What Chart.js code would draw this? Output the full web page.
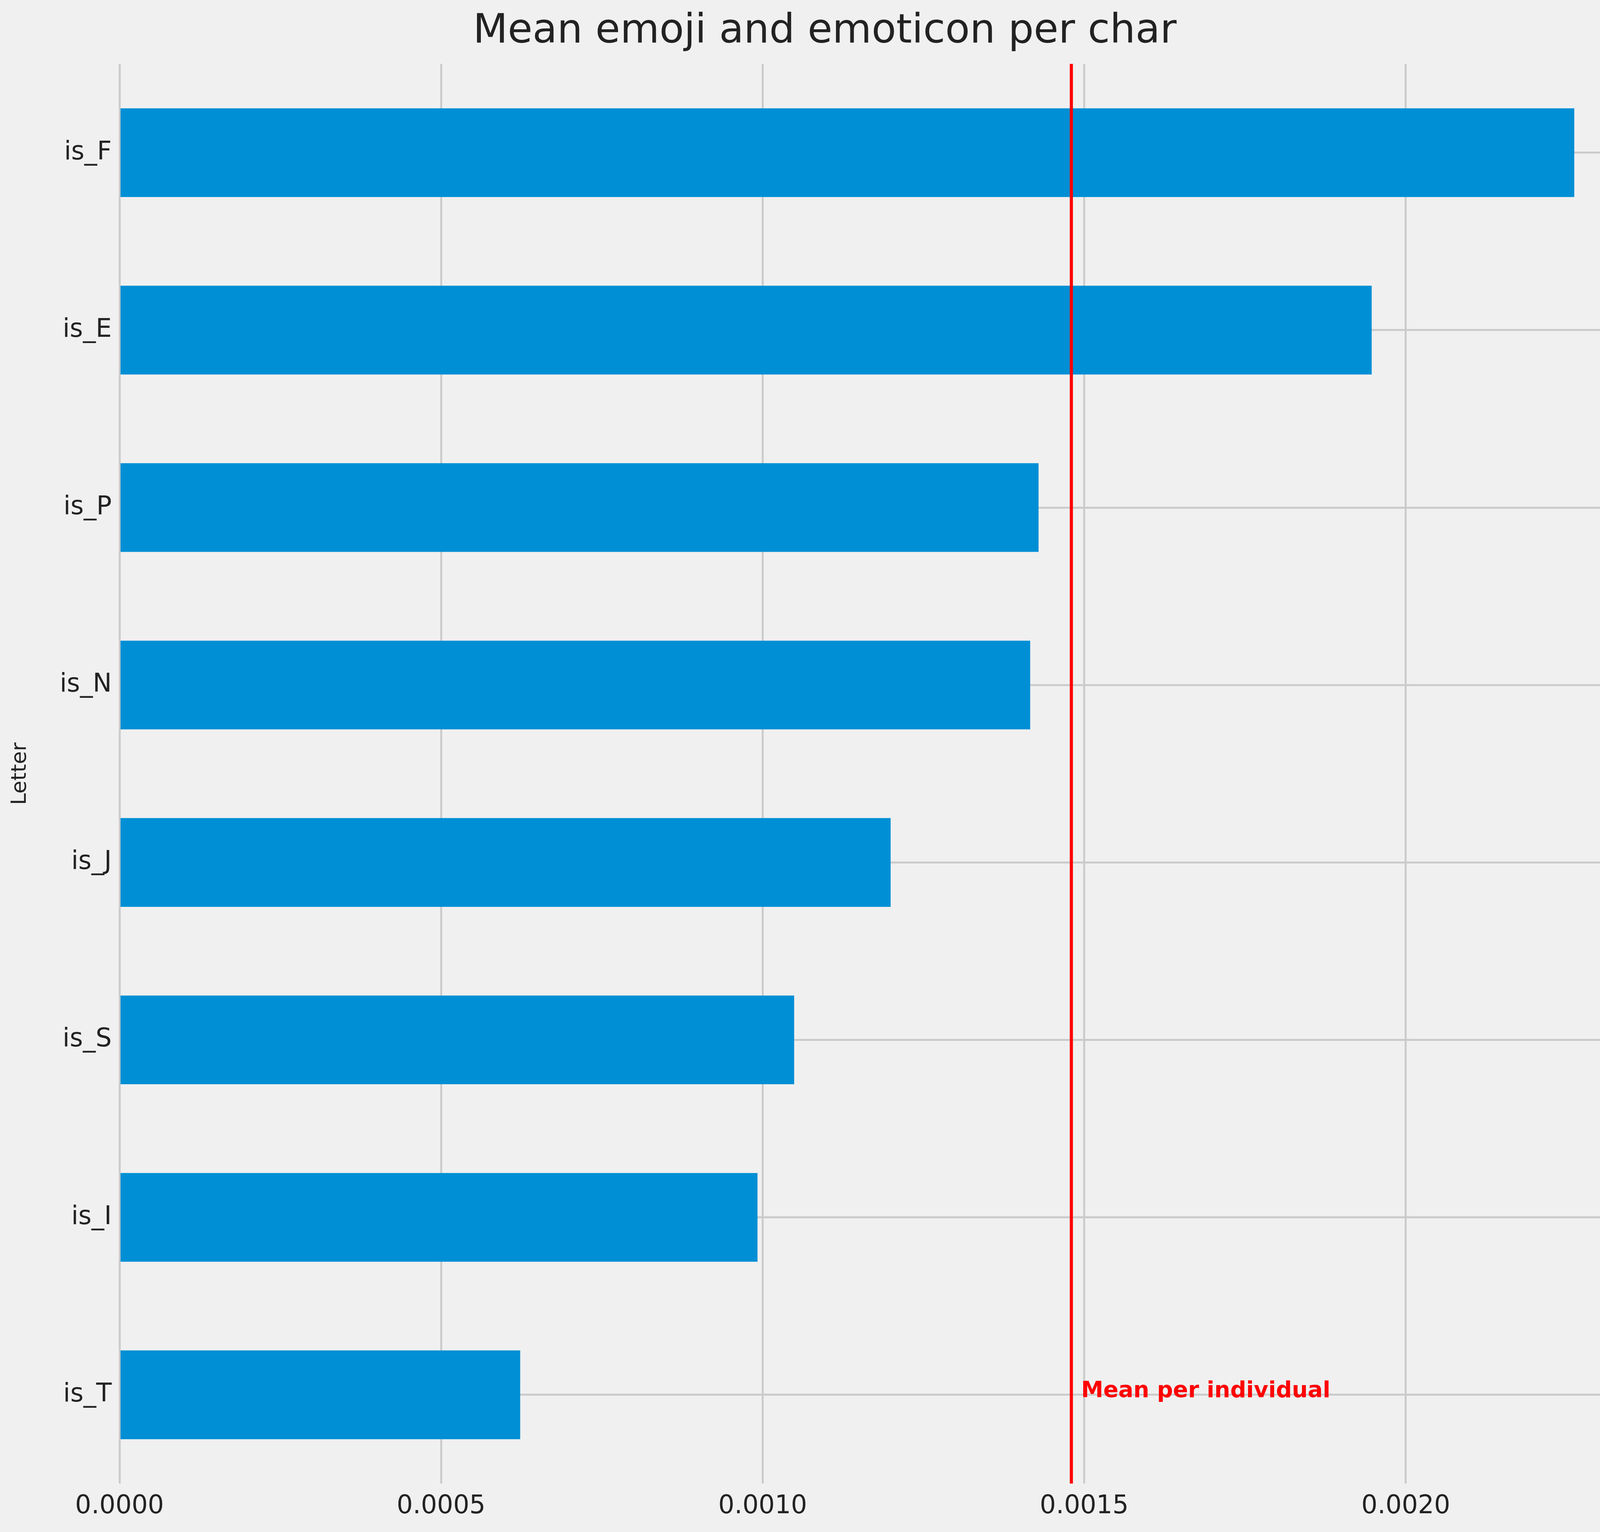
<!DOCTYPE html>
<html>
<head>
<meta charset="utf-8">
<script src="https://cdn.jsdelivr.net/npm/chart.js@4"></script>
<style>
  body { margin: 0; background: #f0f0f0; }
</style>
</head>
<body>
<canvas id="mychart" width="4246" height="3921"></canvas>
<script>
/* [ Data ] */
const letters = ['is_F', 'is_E', 'is_P', 'is_N', 'is_J', 'is_S', 'is_I', 'is_T'];
const meanPerChar = [0.002262, 0.001947, 0.001429, 0.001416, 0.001199, 0.001049, 0.000992, 0.000623];
const meanPerIndividual = 0.00148;
const xTicks = [0, 0.0005, 0.0010, 0.0015, 0.0020];

/* [ Mean line plugin ] */
const meanLine = {
    id: 'meanLine',
    afterDatasetsDraw(chart) {
        const c = chart.ctx, x = chart.scales.x, y = chart.scales.y;
        const px = x.getPixelForValue(meanPerIndividual);
        c.save();
        c.strokeStyle = '#ff0000';
        c.lineWidth = 8;
        c.beginPath();
        c.moveTo(px, chart.chartArea.top);
        c.lineTo(px, chart.chartArea.bottom);
        c.stroke();
        c.fillStyle = '#ff0000';
        c.font = 'bold 57px "DejaVu Sans"';
        c.textBaseline = 'bottom';
        c.fillText('Mean per individual', px + 25, y.getPixelForValue(7) + 20);
        c.restore();
    }
};

const bgPlugin = {
    id: 'bg',
    beforeDraw(chart) {
        const c = chart.ctx;
        c.save();
        c.fillStyle = '#f0f0f0';
        c.fillRect(0, 0, chart.width, chart.height);
        c.restore();
    }
};

const ctx = document.getElementById('mychart').getContext('2d');
let mychart = new Chart(ctx, {
    type: 'bar',
    data: {
        labels: letters,
        datasets: [{
            data: meanPerChar,
            backgroundColor: '#008fd5',
            barPercentage: 0.5,
            categoryPercentage: 1
        }]
    },
    options: {
        indexAxis: 'y',
        responsive: false,
        animation: false,
        devicePixelRatio: 1,
        layout: { padding: { left: 20, right: 43 } },
        plugins: {
            legend: { display: false },
            tooltip: { enabled: false },
            title: {
                display: true,
                text: 'Mean emoji and emoticon per char',
                color: '#222',
                font: { family: 'DejaVu Sans', size: 103, weight: 'normal' },
                padding: { top: 20, bottom: 20 }
            }
        },
        scales: {
            x: {
                min: 0,
                max: 0.002367,
                afterBuildTicks(axis) { axis.ticks = xTicks.map(v => ({ value: v })); },
                afterFit(axis) { axis.height = 124; },
                border: { display: false },
                grid: { color: '#cbcbcb', lineWidth: 5, drawTicks: false },
                ticks: {
                    color: '#222',
                    padding: 20,
                    font: { family: 'DejaVu Sans', size: 65 },
                    callback: v => v.toFixed(4)
                }
            },
            y: {
                afterFit(axis) { axis.width = 286; },
                border: { display: false },
                grid: { color: '#cbcbcb', lineWidth: 5, offset: false, drawTicks: false },
                ticks: {
                    color: '#222',
                    padding: 20,
                    font: { family: 'DejaVu Sans', size: 65 }
                },
                title: {
                    display: true,
                    text: 'Letter',
                    color: '#222',
                    font: { family: 'DejaVu Sans', size: 54 },
                    padding: 0
                }
            }
        }
    },
    plugins: [bgPlugin, meanLine]
});
</script>
</body>
</html>
